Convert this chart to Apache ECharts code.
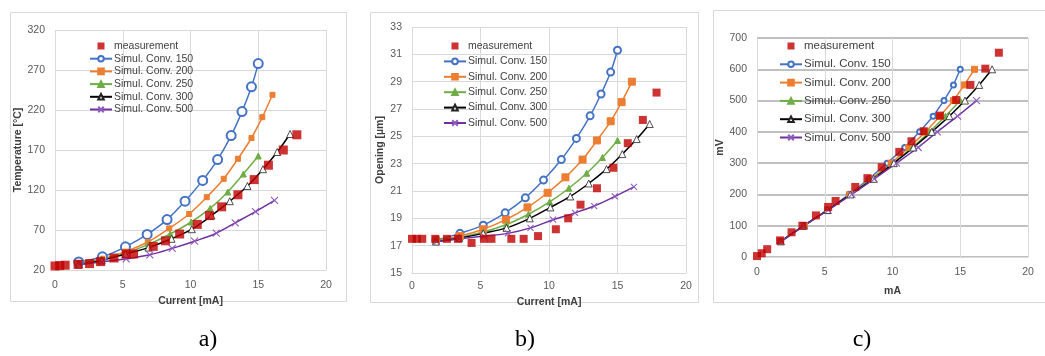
<!DOCTYPE html>
<html><head><meta charset="utf-8">
<script src="https://cdn.jsdelivr.net/npm/echarts@6/dist/echarts.min.js"></script>
<style>html,body{margin:0;padding:0;background:#fff}#c{width:1045px;height:356px}</style>
</head><body><div id="c"></div>
<script>
// ---- data ----
const seriesNames = ['measurement','Simul. Conv. 150','Simul. Conv. 200','Simul. Conv. 250','Simul. Conv. 300','Simul. Conv. 500'];
const xTicksLabel = 'Current [mA]';
// measurement currents (mA)
const measCurrent = [0, 0.35, 0.75, 1.7, 2.55, 3.35, 4.35, 5.25, 5.8, 7.25, 8.15, 9.2, 10.5, 11.4, 12.3, 13.5, 14.7, 15.75, 16.85, 17.85];
// simulated currents (mA)
const curC150 = [1.75, 3.5, 5.2, 6.8, 8.27, 9.6, 10.9, 12.0, 13.0, 13.8, 14.5, 15.0];
const curC200 = [1.75, 3.5, 5.2, 6.85, 8.43, 9.9, 11.2, 12.45, 13.5, 14.5, 15.3, 16.05];
const curC250 = [1.75, 3.45, 5.2, 6.9, 8.5, 10.05, 11.45, 12.75, 13.9, 15.0];
const curC300 = [1.75, 3.45, 5.2, 6.9, 8.6, 10.1, 11.55, 12.9, 14.2, 15.35, 16.4, 17.35];
const curC500 = [1.8, 3.45, 5.25, 7.0, 8.65, 10.3, 11.9, 13.3, 14.8, 16.2];
// panel a) temperature (°C)
const tempMeas = [25, 25.5, 26, 27, 28, 30.5, 35, 40, 40, 49.5, 56.5, 65, 77, 88, 99, 114, 133, 151, 170, 189];
const tempC150 = [30, 36.5, 49, 64.5, 83, 106, 132, 158, 188, 218, 249, 278];
const tempC200 = [29, 34, 43, 55, 72, 90, 111, 134, 159, 185, 211, 239];
const tempC250 = [28, 33, 41, 52, 65, 80, 97, 117.5, 140, 162.5];
const tempC300 = [27, 32, 40, 48, 59, 71, 88, 106, 125, 146, 167.5, 190];
const tempC500 = [27, 30, 34, 39, 47, 56, 66, 79, 93, 107];
// panel b) opening (µm)
const openMeas = [17.5, 17.5, 17.5, 17.5, 17.5, 17.5, 17.2, 17.5, 17.5, 17.5, 17.5, 17.7, 18.2, 19.0, 20.0, 21.2, 22.7, 24.5, 26.2, 28.2];
const openC150 = [17.4, 17.9, 18.5, 19.4, 20.5, 21.8, 23.3, 24.85, 26.5, 28.1, 29.7, 31.3];
const openC200 = [17.4, 17.7, 18.2, 18.9, 19.8, 20.87, 22.0, 23.3, 24.7, 26.1, 27.5, 29.0];
const openC250 = [17.4, 17.6, 18.0, 18.55, 19.3, 20.2, 21.2, 22.3, 23.45, 24.7];
const openC300 = [17.3, 17.55, 17.9, 18.3, 19.0, 19.8, 20.6, 21.55, 22.6, 23.7, 24.8, 25.9];
const openC500 = [17.3, 17.5, 17.7, 17.9, 18.3, 18.9, 19.4, 19.9, 20.6, 21.3];
// panel c) voltage (mV)
const mvMeas = [3, 12, 25, 53, 79, 100, 133, 160, 179, 224, 252, 287, 336, 370, 402, 452, 502, 550, 602, 653];
const mvC150 = [50, 100, 150, 200, 250, 300, 350, 400, 450, 500, 550, 600];
const mvC200 = [50, 100, 150, 200, 250, 300, 350, 400, 450, 500, 550, 600];
const mvC250 = [50, 100, 150, 200, 250, 300, 350, 400, 450, 500];
const mvC300 = [50, 100, 150, 200, 250, 300, 350, 400, 450, 500, 550, 600];
const mvC500 = [50, 100, 150, 200, 250, 300, 350, 400, 450, 500];

const panelLabels = ['a)', 'b)', 'c)'];

// ---- styling ----
const FONT = 'Liberation Sans';
const COLORS = ['#C00000', '#4472C4', '#ED7D31', '#70AD47', '#000000', '#7030A0'];
const XSYM = 'path://M0,0L10,10M10,0L0,10';
const SQ = 'path://M0,0L10,0L10,10L0,10Z';
const TRI = 'path://M5,0L10,9L0,9Z';

function pairs(xs, ys) { return xs.map((x, i) => [x, ys[i]]); }

function panelSeries(idx, ysets, smooth, sizes) {
  const cur = [measCurrent, curC150, curC200, curC250, curC300, curC500];
  const out = [];
  out.push({
    name: seriesNames[0], type: 'scatter', xAxisIndex: idx, yAxisIndex: idx,
    data: pairs(cur[0], ysets[0]), symbol: SQ, symbolKeepAspect: true, symbolSize: sizes.meas,
    itemStyle: { color: COLORS[0] }, z: 5
  });
  const syms = ['emptyCircle', 'rect', 'triangle', TRI, XSYM];
  const ssz = [sizes.circ, sizes.sq, sizes.tri, sizes.tri + 1, sizes.x];
  for (let k = 1; k <= 5; k++) {
    const s = {
      name: seriesNames[k], type: 'line', xAxisIndex: idx, yAxisIndex: idx,
      data: pairs(cur[k], ysets[k]), smooth: smooth ? 0.35 : false,
      symbol: syms[k - 1], symbolSize: ssz[k - 1], showAllSymbol: true,
      lineStyle: { color: COLORS[k], width: 1.5 },
      itemStyle: { color: COLORS[k], borderColor: COLORS[k], borderWidth: k === 1 ? 0.8 : 1 },
      z: 3
    };
    if (k === 4) s.itemStyle = { color: '#fff', borderColor: '#222', borderWidth: 0.8 };
    if (k === 5) s.itemStyle = { color: 'none', borderColor: '#8E5CBF', borderWidth: 1.1 };
    out.push(s);
  }
  return out;
}

const axisLbl = { color: '#595959', fontSize: 10.5, fontFamily: FONT };
const nameTs = { color: '#404040', fontSize: 10.5, fontWeight: 'bold', fontFamily: FONT };
const gl = { show: true, lineStyle: { color: '#d9d9d9', width: 1 } };

function xAx(idx, name, gap, lblMargin) {
  return { gridIndex: idx, type: 'value', min: 0, max: 20, interval: 5,
    name: name, nameLocation: 'middle', nameGap: gap, nameTextStyle: nameTs,
    axisLine: { show: true, lineStyle: { color: '#d9d9d9' } }, axisTick: { show: false },
    axisLabel: Object.assign({ margin: lblMargin }, axisLbl), splitLine: gl };
}
function yAx(idx, name, min, max, interval, gap, split) {
  return { gridIndex: idx, type: 'value', min: min, max: max, interval: interval,
    name: name, nameLocation: 'middle', nameGap: gap, nameTextStyle: nameTs,
    axisLine: { show: false }, axisTick: { show: false },
    axisLabel: Object.assign({ margin: 10 }, axisLbl), splitLine: split || gl };
}
function legend(left, top, gap, fs) {
  return { orient: 'vertical', left: left, top: top, padding: 0, itemGap: gap,
    itemWidth: 22, itemHeight: 7,
    data: [{ name: seriesNames[0], icon: SQ }].concat(seriesNames.slice(1)),
    textStyle: { color: '#404040', fontSize: fs, fontFamily: FONT, lineHeight: 12, padding: [0, 0, 0, -3] } };
}

const option = {
  animation: false,
  backgroundColor: '#fff',
  grid: [
    { left: 55, top: 30, width: 271, height: 240 },
    { left: 412, top: 27, width: 274, height: 246 },
    { left: 757, top: 38, width: 271, height: 219 }
  ],
  xAxis: [ xAx(0, xTicksLabel, 19, 10), xAx(1, xTicksLabel, 16, 8), xAx(2, 'mA', 29, 10) ],
  yAxis: [
    yAx(0, 'Temperature [°C]', 20, 320, 50, 31),
    yAx(1, 'Opening [µm]', 15, 33, 2, 26),
    yAx(2, 'mV', 0, 700, 100, 30, { show: true, lineStyle: { color: '#ababab', width: 1.5 } })
  ],
  legend: [ legend(89, 40, 0.7, 10.5), legend(443, 40, 3.4, 10.5), legend(779, 40, 6.3, 11.5) ],
  series: [].concat(
    panelSeries(0, [tempMeas, tempC150, tempC200, tempC250, tempC300, tempC500], true, { meas: 9, circ: 9, sq: 5, tri: 6, x: 7 }),
    panelSeries(1, [openMeas, openC150, openC200, openC250, openC300, openC500], true, { meas: 8, circ: 7, sq: 7, tri: 6, x: 6 }),
    panelSeries(2, [mvMeas, mvC150, mvC200, mvC250, mvC300, mvC500], false, { meas: 8, circ: 5, sq: 6, tri: 6, x: 7 })
  ),
  graphic: [
    { type: 'rect', shape: { x: 10.5, y: 12.5, width: 336, height: 289 }, style: { fill: 'none', stroke: '#d9d9d9', lineWidth: 1 }, z: -1 },
    { type: 'rect', shape: { x: 370.5, y: 12.5, width: 328, height: 290 }, style: { fill: 'none', stroke: '#d9d9d9', lineWidth: 1 }, z: -1 },
    { type: 'rect', shape: { x: 713.5, y: 10.5, width: 340, height: 292 }, style: { fill: 'none', stroke: '#d9d9d9', lineWidth: 1 }, z: -1 },
    { type: 'text', x: 208, y: 352, style: { text: panelLabels[0], font: '24px "Liberation Serif"', fill: '#000', textAlign: 'center', textVerticalAlign: 'bottom' } },
    { type: 'text', x: 525, y: 352, style: { text: panelLabels[1], font: '24px "Liberation Serif"', fill: '#000', textAlign: 'center', textVerticalAlign: 'bottom' } },
    { type: 'text', x: 862, y: 352, style: { text: panelLabels[2], font: '24px "Liberation Serif"', fill: '#000', textAlign: 'center', textVerticalAlign: 'bottom' } }
  ]
};
echarts.init(document.getElementById('c')).setOption(option);
</script></body></html>
